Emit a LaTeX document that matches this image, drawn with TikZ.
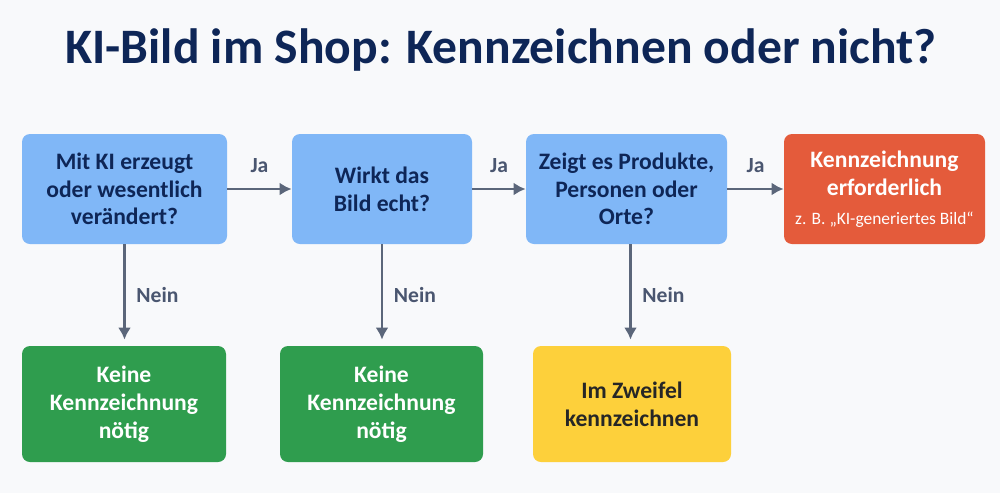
\documentclass[tikz,border=0pt]{standalone}
\usepackage{fontspec}
\setmainfont{Carlito}
\usetikzlibrary{arrows.meta}

\definecolor{bgcol}{HTML}{F8F9FB}
\definecolor{navy}{HTML}{0E2657}
\definecolor{qblue}{HTML}{80B7F7}
\definecolor{okgreen}{HTML}{2F9D4E}
\definecolor{warnyellow}{HTML}{FDD03B}
\definecolor{mustred}{HTML}{E45B3B}
\definecolor{arrowgray}{HTML}{5B667A}
\definecolor{labelgray}{HTML}{4A5670}

\begin{document}
\begin{tikzpicture}[x=0.5pt,y=-0.5pt,
  box/.style={rounded corners=4pt, inner sep=0pt, align=center,
    minimum height=55pt, font=\bfseries\fontsize{11.8}{13.9}\selectfont},
  question/.style={box, fill=qblue, text=navy},
  flow/.style={-{Latex[length=6pt,width=6.5pt]}, line width=1.3pt, color=arrowgray},
  answer/.style={font=\bfseries\fontsize{10.8}{12}\selectfont, text=labelgray}]

\useasboundingbox[fill=bgcol] (0,0) rectangle (1000,493);

% Title
\node[anchor=base, text=navy, font=\bfseries\fontsize{24.8}{30}\selectfont] (title) at (501,63)
  {KI-Bild im Shop: Kennzeichnen oder nicht?};

% Questions in the top row
\node[question, minimum width=102.5pt] (q1) at (124.5,189) {Mit KI erzeugt\\oder wesentlich\\verändert?};
\node[question, minimum width=90pt] (q2) at (382,189) {Wirkt das\\Bild echt?};
\node[question, minimum width=100.5pt] (q3) at (626.5,189) {Zeigt es Produkte,\\Personen oder\\Orte?};
\node[box, fill=mustred, text=white, minimum width=100.5pt] (must) at (884.5,189)
  {Kennzeichnung\\erforderlich\\[0.5pt]{\mdseries\fontsize{8.7}{10}\selectfont z. B. „KI-generiertes Bild“}};

% Results in the bottom row
\node[box, fill=okgreen, text=white, minimum width=102pt, minimum height=58pt] (no1) at (124,404) {Keine\\Kennzeichnung\\nötig};
\node[box, fill=okgreen, text=white, minimum width=101.5pt, minimum height=58pt] (no2) at (381.5,404) {Keine\\Kennzeichnung\\nötig};
\node[box, fill=warnyellow, text=black!85, minimum width=99pt, minimum height=58pt] (doubt) at (632,404) {Im Zweifel\\kennzeichnen};

% Ja arrows
\draw[flow] (q1) -- node[answer, above=4pt] {Ja} (q2);
\draw[flow] (q2) -- node[answer, above=4pt] {Ja} (q3);
\draw[flow] (q3) -- node[answer, above=4pt] {Ja} (must);

% Nein arrows
\draw[flow, shorten >=3pt] (q1.south) -- node[answer, right=2pt] {Nein} (q1.south |- no1.north);
\draw[flow, shorten >=3pt] (q2.south) -- node[answer, right=2pt] {Nein} (q2.south |- no2.north);
\draw[flow, shorten >=3pt] ([xshift=2pt]q3.south) -- node[answer, right=2pt] {Nein} ([xshift=2pt]q3.south |- doubt.north);

\end{tikzpicture}
\end{document}
